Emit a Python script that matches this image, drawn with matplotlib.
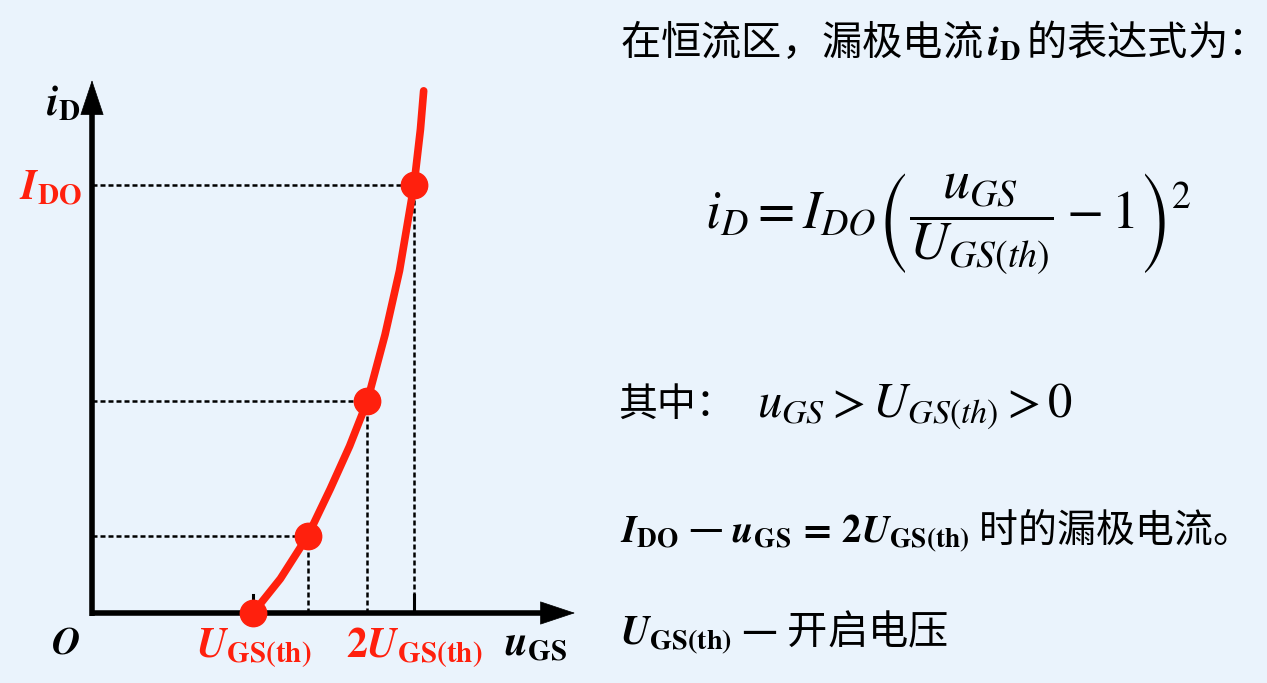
import matplotlib
matplotlib.use("Agg")
import matplotlib.pyplot as plt

plt.rcParams['mathtext.fontset'] = 'stix'
plt.rcParams['font.family'] = ['Noto Sans CJK SC', 'DejaVu Sans']

# ---- data (x in units of U_GS(th), y in units of I_DO) ----
curve_x = [1.00, 1.17, 1.34, 1.48, 1.60, 1.71, 1.82, 1.91, 2.00, 2.04, 2.06]
curve_y = [0.00, 0.08, 0.18, 0.29, 0.39, 0.495, 0.65, 0.80, 1.00, 1.13, 1.22]
point_x = [1.00, 1.34, 1.71, 2.00]
point_y = [0.00, 0.18, 0.495, 1.00]
tick_x = [1.0, 2.0]

BG = '#EAF3FC'
RED = '#FF200D'
W, H = 1267, 683
fig = plt.figure(figsize=(W / 100, H / 100), dpi=100, facecolor=BG)
ax = fig.add_axes([0, 0, 1, 1])
ax.set_facecolor('none')
ax.axis('off')
x0, sx = 92, 161.0
y0, sy = 613, 428.0
ax.set_xlim(-x0 / sx, (W - x0) / sx)
ax.set_ylim(-(H - y0) / sy, y0 / sy)

def px(x, y):
    return (x - x0) / sx, (y0 - y) / sy

# axes with arrows
arrow_style = '-|>,head_length=1.2,head_width=0.4'
ax.plot([0, 2.85], [0, 0], color='black', lw=4, solid_capstyle='butt', zorder=3)
ax.plot([0, 0], [-0.006, 1.18], color='black', lw=4, solid_capstyle='butt', zorder=3)
ax.annotate('', xy=(3.0, 0), xytext=(2.8, 0),
            arrowprops=dict(arrowstyle=arrow_style, color='black', lw=0.5,
                            mutation_scale=20, shrinkA=0, shrinkB=0), zorder=3)
ax.annotate('', xy=(0, 1.245), xytext=(0, 1.15),
            arrowprops=dict(arrowstyle=arrow_style, color='black', lw=0.5,
                            mutation_scale=20, shrinkA=0, shrinkB=0), zorder=3)

# dashed guides
for xv, yv in zip(point_x[1:], point_y[1:]):
    ax.plot([0, xv], [yv, yv], color='black', lw=1.8, ls=(0, (2.0, 1.2)), zorder=2)
    ax.plot([xv, xv], [0, yv], color='black', lw=1.8, ls=(0, (2.0, 1.2)), zorder=2)
# small ticks
for xv in tick_x:
    ax.plot([xv, xv], [0, 0.042], color='black', lw=2.2, zorder=2)

# curve and points
ax.plot(curve_x, curve_y, color=RED, lw=5.5, solid_capstyle='round',
        solid_joinstyle='round', zorder=4)
ax.plot(point_x, point_y, 'o', color=RED, ms=19, zorder=5)

# axis labels
fs_lab = 30
ax.text(*px(80, 104), r'$\mathbfit{i}_{\mathbf{D}}$', fontsize=fs_lab, ha='right', va='center', color='black')
ax.text(*px(82, 188), r'$\mathbfit{I}_{\mathbf{DO}}$', fontsize=fs_lab, ha='right', va='center', color=RED)
ax.text(*px(65, 642), r'$\mathbfit{O}$', fontsize=28, ha='center', va='center', color='black')
ax.text(*px(254, 657), r'$\mathbfit{U}_{\mathbf{GS(th)}}$', fontsize=fs_lab, ha='center', va='baseline', color=RED)
ax.text(*px(414, 657), r'$\mathbf{2}\mathbfit{U}_{\mathbf{GS(th)}}$', fontsize=fs_lab, ha='center', va='baseline', color=RED)
ax.text(*px(536, 655), r'$\mathbfit{u}_{\mathbf{GS}}$', fontsize=fs_lab, ha='center', va='baseline', color='black')

# right side text
def ft(x, y, s, **kw):
    fig.text(x / W, 1 - y / H, s, **kw)

ft(620, 42, r'在恒流区，漏极电流$\,\mathbfit{i}_{\mathbf{D}}\,$的表达式为：', fontsize=29, ha='left', va='center', color='black')
ft(705, 224, r'$i_D = I_{DO}\left(\dfrac{u_{GS}}{U_{GS(th)}} - 1\right)^2$', fontsize=39, ha='left', va='center', color='black')
ft(618, 405, '其中：', fontsize=28, ha='left', va='center', color='black')
ft(757, 407, r'$u_{GS} > U_{GS(th)} > 0$', fontsize=35, ha='left', va='center', color='black')
ft(620, 530, r'$\mathbfit{I}_{\mathbf{DO}}$ — $\mathbfit{u}_{\mathbf{GS}}\,\mathbf{=}\,\mathbf{2}\mathbfit{U}_{\mathbf{GS(th)}}$ 时的漏极电流。',
   fontsize=28, ha='left', va='center', color='black')
ft(620, 632, r'$\mathbfit{U}_{\mathbf{GS(th)}}$ — 开启电压', fontsize=29, ha='left', va='center', color='black')

fig.savefig('out.png', dpi=100, facecolor=BG)
